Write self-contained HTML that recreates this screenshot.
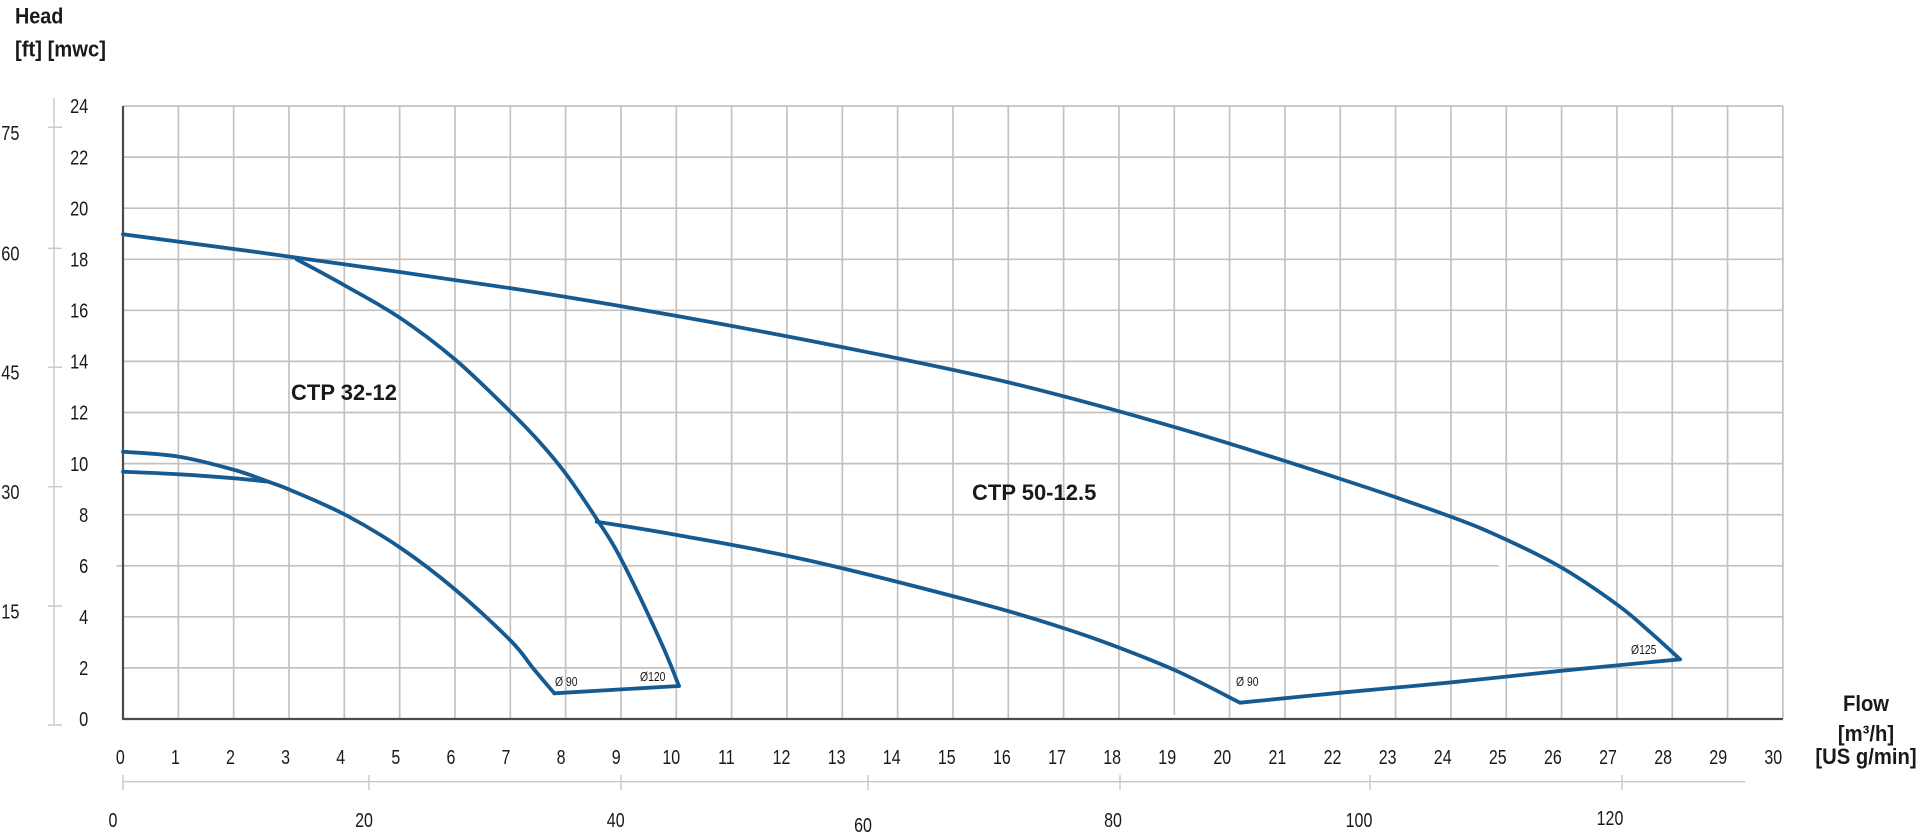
<!DOCTYPE html>
<html><head><meta charset="utf-8"><style>
html,body{margin:0;padding:0;background:#fff;}
svg{display:block;}
text{font-family:"Liberation Sans",sans-serif;fill:#1a1a1a;}
.b{font-weight:bold;}
</style></head><body>
<svg id="chart" width="1920" height="838" viewBox="0 0 1920 838" xmlns="http://www.w3.org/2000/svg">
<rect width="1920" height="838" fill="#fff"/>
<g stroke="#c2c2c2" stroke-width="1.7" fill="none">
<path d="M178.33 106V719M233.66 106V719M288.99 106V719M344.32 106V719M399.65 106V719M454.98 106V719M510.31 106V719M565.64 106V719M620.97 106V719M676.3 106V719M731.63 106V719M786.96 106V719M842.29 106V719M897.62 106V719M952.95 106V719M1008.28 106V719M1063.61 106V719M1118.94 106V719M1174.27 106V715M1229.6 106V719M1284.93 106V719M1340.26 106V719M1395.59 106V719M1450.92 106V719M1506.25 106V719M1561.58 106V719M1616.91 106V719M1672.24 106V719M1727.57 106V719M1782.9 106V719"/>
<path d="M123 106H1782.9M123 157.1H1782.9M123 208.2H1782.9M123 259.3H1782.9M123 310.3H1782.9M123 361.4H1782.9M123 412.5H1782.9M123 463.6H1782.9M123 514.7H1782.9M116.5 565.8H1499M1508 565.8H1782.9M123 616.8H1782.9M123 667.9H1782.9"/>
</g>
<path d="M123 106V719H1782.9" stroke="#4a4a4a" stroke-width="2.2" fill="none"/>
<g stroke="#c8c8c8" stroke-width="1.4" fill="none">
<path d="M54 98V725M48 127.3H62M48 248.3H62M48 367.3H62M48 486.7H62M48 606H62M48 725H62"/>
<path d="M123 781.7H1745M123 775V790M369 775V790M621 775V790M868 775V790M1120 775V790M1370 775V790M1622 775V790"/>
</g>
<g id="curves" stroke="#165a92" stroke-width="3.8" fill="none" stroke-linejoin="round" stroke-linecap="round">
<polyline id="cA" points="123,234.3 290.3,256.7 511,288.3 677,316 843,347.3 1009,382.5 1178.7,428.3 1340.7,479 1451.7,517 1507,540 1562.3,568 1617.7,605 1650,632 1680,659.3"/>
<polyline id="cB" points="296.7,259.3 345.7,286 400.7,318.3 455.7,360 511,412.3 540,442.5 566,474 596.7,519 620,557 660,640 679,686"/>
<polyline id="cC" points="123,451.7 179.3,456.7 234.7,470 268.3,481.7 290.3,490 345.7,515 400.7,548 455.7,590 511,641 533.3,668.5 554.3,693.3"/>
<polyline id="cD" points="123,471.7 179.3,474.3 234.7,478.3 268.3,481.7"/>
<polyline id="cE" points="554.3,693.3 679,686"/>
<polyline id="cF" points="596.7,521.7 677,535 806.7,560 980,603.3 1064.7,628.5 1120,648 1178.3,671.7 1240,702.7"/>
<polyline id="cG" points="1240,702.7 1340.7,692.7 1451.7,682.3 1562.3,670.7 1680,659.3"/>
</g>
<text class="b" font-size="22" transform="translate(15,23.3) scale(0.9,1)">Head</text>
<text class="b" font-size="22" transform="translate(15,56.5) scale(0.92,1)">[ft] [mwc]</text>
<text class="b" font-size="22" text-anchor="middle" transform="translate(1866,711) scale(0.92,1)">Flow</text>
<text class="b" font-size="22" text-anchor="middle" transform="translate(1866,741) scale(0.92,1)">[m³/h]</text>
<text class="b" font-size="22" text-anchor="middle" transform="translate(1866,764) scale(0.92,1)">[US g/min]</text>
<text class="b" font-size="22" x="291" y="400">CTP 32-12</text>
<text class="b" font-size="22" x="972" y="500">CTP 50-12.5</text>
<g font-size="13">
<text transform="translate(555,686) scale(0.8,1)">Ø 90</text>
<text transform="translate(640,681) scale(0.8,1)">Ø120</text>
<text transform="translate(1236,686) scale(0.8,1)">Ø 90</text>
<text transform="translate(1631,654) scale(0.8,1)">Ø125</text>
</g>
<g font-size="20.5" text-anchor="end">
<text transform="translate(88.3,726.2) scale(0.8,1)">0</text>
<text transform="translate(88.3,675.1) scale(0.8,1)">2</text>
<text transform="translate(88.3,624) scale(0.8,1)">4</text>
<text transform="translate(88.3,573) scale(0.8,1)">6</text>
<text transform="translate(88.3,521.9) scale(0.8,1)">8</text>
<text transform="translate(88.3,470.8) scale(0.8,1)">10</text>
<text transform="translate(88.3,419.7) scale(0.8,1)">12</text>
<text transform="translate(88.3,368.6) scale(0.8,1)">14</text>
<text transform="translate(88.3,317.5) scale(0.8,1)">16</text>
<text transform="translate(88.3,266.5) scale(0.8,1)">18</text>
<text transform="translate(88.3,215.4) scale(0.8,1)">20</text>
<text transform="translate(88.3,164.3) scale(0.8,1)">22</text>
<text transform="translate(88.3,113.2) scale(0.8,1)">24</text>
</g>
<g font-size="20.5" text-anchor="end">
<text transform="translate(19.5,140) scale(0.8,1)">75</text>
<text transform="translate(19.5,260.5) scale(0.8,1)">60</text>
<text transform="translate(19.5,379.5) scale(0.8,1)">45</text>
<text transform="translate(19.5,499) scale(0.8,1)">30</text>
<text transform="translate(19.5,618.5) scale(0.8,1)">15</text>
</g>
<g font-size="20" text-anchor="middle">
<text transform="translate(120.3,764) scale(0.8,1)">0</text>
<text transform="translate(175.4,764) scale(0.8,1)">1</text>
<text transform="translate(230.5,764) scale(0.8,1)">2</text>
<text transform="translate(285.6,764) scale(0.8,1)">3</text>
<text transform="translate(340.7,764) scale(0.8,1)">4</text>
<text transform="translate(395.8,764) scale(0.8,1)">5</text>
<text transform="translate(450.9,764) scale(0.8,1)">6</text>
<text transform="translate(506,764) scale(0.8,1)">7</text>
<text transform="translate(561.1,764) scale(0.8,1)">8</text>
<text transform="translate(616.2,764) scale(0.8,1)">9</text>
<text transform="translate(671.3,764) scale(0.8,1)">10</text>
<text transform="translate(726.4,764) scale(0.8,1)">11</text>
<text transform="translate(781.5,764) scale(0.8,1)">12</text>
<text transform="translate(836.6,764) scale(0.8,1)">13</text>
<text transform="translate(891.7,764) scale(0.8,1)">14</text>
<text transform="translate(946.8,764) scale(0.8,1)">15</text>
<text transform="translate(1001.9,764) scale(0.8,1)">16</text>
<text transform="translate(1057,764) scale(0.8,1)">17</text>
<text transform="translate(1112.1,764) scale(0.8,1)">18</text>
<text transform="translate(1167.2,764) scale(0.8,1)">19</text>
<text transform="translate(1222.3,764) scale(0.8,1)">20</text>
<text transform="translate(1277.4,764) scale(0.8,1)">21</text>
<text transform="translate(1332.5,764) scale(0.8,1)">22</text>
<text transform="translate(1387.6,764) scale(0.8,1)">23</text>
<text transform="translate(1442.7,764) scale(0.8,1)">24</text>
<text transform="translate(1497.8,764) scale(0.8,1)">25</text>
<text transform="translate(1552.9,764) scale(0.8,1)">26</text>
<text transform="translate(1608,764) scale(0.8,1)">27</text>
<text transform="translate(1663.1,764) scale(0.8,1)">28</text>
<text transform="translate(1718.2,764) scale(0.8,1)">29</text>
<text transform="translate(1773.3,764) scale(0.8,1)">30</text>
</g>
<g font-size="20" text-anchor="middle">
<text transform="translate(113,827) scale(0.8,1)">0</text>
<text transform="translate(364,827) scale(0.8,1)">20</text>
<text transform="translate(615.7,827) scale(0.8,1)">40</text>
<text transform="translate(863,832) scale(0.8,1)">60</text>
<text transform="translate(1113,827) scale(0.8,1)">80</text>
<text transform="translate(1359,827) scale(0.8,1)">100</text>
<text transform="translate(1610,825) scale(0.8,1)">120</text>
</g>
</svg>
<script>
(function(){
  try{
    var ns="http://www.w3.org/2000/svg";
    var ids=["cA","cB","cC","cD","cF","cG"];
    ids.forEach(function(id){
      var pl=document.getElementById(id);
      if(!pl) return;
      var raw=pl.getAttribute("points").trim().split(/\s+/).map(function(s){var a=s.split(",");return [parseFloat(a[0]),parseFloat(a[1])];});
      var n=raw.length; if(n<3) return;
      var d="M"+raw[0][0]+","+raw[0][1];
      for(var i=0;i<n-1;i++){
        var p0=raw[i>0?i-1:i],p1=raw[i],p2=raw[i+1],p3=raw[i+2<n?i+2:i+1];
        var c1x=p1[0]+(p2[0]-p0[0])/6,c1y=p1[1]+(p2[1]-p0[1])/6;
        var c2x=p2[0]-(p3[0]-p1[0])/6,c2y=p2[1]-(p3[1]-p1[1])/6;
        d+=" C"+c1x.toFixed(2)+","+c1y.toFixed(2)+" "+c2x.toFixed(2)+","+c2y.toFixed(2)+" "+p2[0]+","+p2[1];
      }
      var p=document.createElementNS(ns,"path");
      p.setAttribute("d",d);
      pl.parentNode.insertBefore(p,pl);
      pl.parentNode.removeChild(pl);
    });
  }catch(e){}
})();
</script>
</body></html>
